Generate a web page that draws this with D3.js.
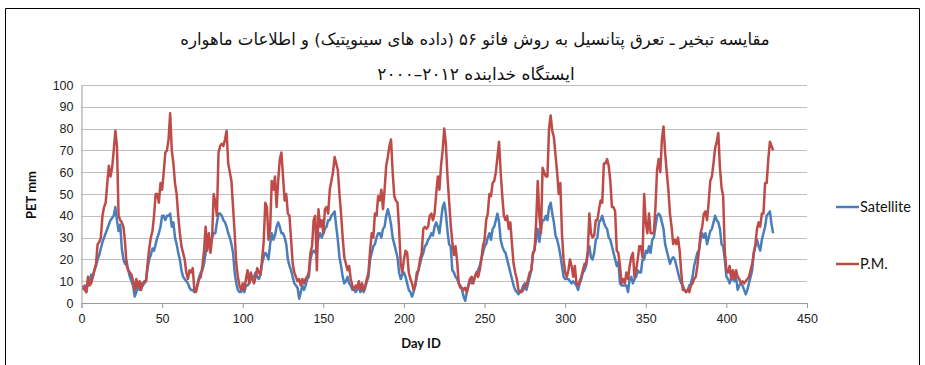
<!DOCTYPE html>
<html>
<head>
<meta charset="utf-8">
<script src="https://cdn.jsdelivr.net/npm/d3@7/dist/d3.min.js"></script>
<style>
  html, body { margin: 0; padding: 0; background: #fff; }
  svg { display: block; }
</style>
</head>
<body>
<svg id="chart" width="925" height="365"></svg>
<script>
// ---- Data ----
const titleLine1 = "مقایسه تبخیر ـ تعرق پتانسیل به روش فائو ۵۶ (داده های سینوپتیک) و اطلاعات ماهواره";
const titleLine2 = "ایستگاه خدابنده ۲۰۱۲–۲۰۰۰";
const xAxisTitle = "Day ID";
const yAxisTitle = "PET mm";
const seriesNames = ["Satellite", "P.M."];
const xTicks = [0, 50, 100, 150, 200, 250, 300, 350, 400, 450];
const yTicks = [0, 10, 20, 30, 40, 50, 60, 70, 80, 90, 100];

// P.M. (FAO-56 Penman-Monteith), day IDs 1..429
const pm = [
  8, 6, 5, 12, 8, 9, 12, 15, 18, 27,
  28, 30, 40, 44, 46, 55, 63, 58, 62, 70,
  79, 72, 40, 38, 37, 35, 28, 17, 15, 14,
  13, 10, 6, 11, 7, 10, 6, 9, 10, 10,
  18, 25, 30, 33, 40, 50, 50, 46, 55, 52,
  60, 69, 70, 75, 87, 70, 64, 55, 50, 40,
  32, 26, 23, 20, 14, 11, 15, 14, 16, 6,
  5, 8, 11, 12, 17, 24, 35, 24, 32, 23,
  30, 50, 46, 40, 69, 72, 73, 72, 75, 79,
  64, 60, 56, 44, 32, 18, 12, 8, 6, 9,
  6, 11, 15, 9, 14, 11, 9, 12, 16, 14,
  13, 20, 28, 46, 44, 29, 34, 56, 52, 58,
  44, 56, 66, 69, 58, 47, 50, 41, 40, 29,
  18, 14, 12, 10, 11, 8, 11, 9, 11, 12,
  14, 23, 26, 38, 40, 15, 43, 35, 38, 32,
  43, 44, 41, 52, 56, 60, 67, 64, 61, 50,
  41, 30, 21, 18, 15, 17, 11, 8, 6, 8,
  7, 10, 6, 9, 6, 8, 11, 14, 24, 32,
  30, 41, 40, 49, 47, 52, 43, 52, 63, 67,
  72, 75, 60, 49, 47, 46, 34, 18, 14, 20,
  24, 23, 14, 11, 9, 6, 8, 14, 15, 20,
  23, 34, 35, 34, 35, 40, 41, 38, 41, 50,
  58, 52, 63, 70, 80, 73, 58, 47, 36, 28,
  22, 26, 19, 9, 7, 7, 6, 7, 5, 8,
  11, 12, 9, 12, 14, 12, 15, 20, 26, 29,
  38, 41, 50, 49, 55, 56, 60, 67, 74, 60,
  49, 40, 38, 40, 34, 37, 27, 18, 14, 11,
  6, 5, 5, 6, 8, 8, 11, 14, 15, 23,
  24, 37, 56, 40, 32, 62, 60, 58, 58, 80,
  86, 79, 76, 68, 60, 50, 55, 32, 20, 14,
  12, 15, 20, 17, 12, 17, 9, 8, 10, 12,
  15, 18, 18, 23, 41, 32, 30, 31, 38, 38,
  43, 47, 46, 64, 64, 66, 63, 56, 44, 44,
  42, 24, 23, 17, 9, 11, 9, 14, 11, 17,
  21, 23, 12, 15, 20, 26, 26, 21, 50, 37,
  32, 41, 32, 32, 32, 44, 61, 66, 60, 75,
  81, 69, 60, 52, 41, 35, 27, 29, 27, 30,
  24, 14, 6, 6, 5, 6, 5, 8, 9, 11,
  12, 17, 24, 32, 35, 41, 42, 38, 46, 56,
  58, 64, 71, 74, 78, 62, 53, 49, 24, 15,
  14, 17, 11, 15, 11, 15, 12, 11, 9, 10,
  9, 10, 11, 12, 15, 18, 23, 27, 34, 37,
  35, 41, 41, 55, 55, 66, 74, 72, 70
];

// Satellite estimate, day IDs 1..429
const satellite = [
  6, 8, 5, 9, 10, 13, 12, 15, 17, 20,
  22, 25, 28, 30, 32, 34, 36, 38, 39, 40,
  44, 38, 33, 36, 25, 20, 18, 19, 15, 12,
  10, 8, 3, 5, 8, 6, 9, 8, 9, 10,
  16, 20, 22, 25, 24, 27, 30, 32, 35, 40,
  40, 38, 40, 40, 41, 35, 37, 30, 27, 23,
  20, 15, 12, 11, 10, 9, 7, 6, 6, 5,
  6, 9, 12, 14, 15, 18, 23, 27, 29, 26,
  30, 32, 32, 37, 41, 41, 40, 38, 37, 35,
  32, 30, 27, 23, 14, 9, 6, 5, 5, 7,
  5, 8, 8, 9, 11, 12, 12, 14, 12, 11,
  13, 18, 21, 23, 22, 20, 27, 32, 29, 31,
  35, 37, 35, 32, 32, 30, 27, 20, 17, 15,
  12, 9, 8, 7, 2, 5, 8, 6, 8, 11,
  12, 20, 23, 24, 23, 26, 30, 32, 30, 32,
  34, 35, 38, 38, 40, 41, 42, 35, 29, 21,
  17, 12, 9, 10, 12, 9, 8, 6, 7, 5,
  6, 8, 5, 7, 5, 7, 10, 12, 20, 23,
  26, 27, 30, 32, 32, 30, 34, 35, 40, 43,
  40, 36, 30, 27, 24, 21, 14, 11, 13, 14,
  12, 9, 6, 5, 3, 5, 8, 12, 15, 18,
  21, 23, 26, 27, 29, 30, 32, 31, 35, 37,
  35, 32, 38, 44, 46, 41, 33, 27, 26, 15,
  14, 12, 11, 9, 8, 6, 3, 1, 5, 8,
  11, 9, 10, 12, 14, 15, 17, 20, 23, 26,
  27, 30, 32, 29, 34, 35, 38, 41, 37, 29,
  26, 24, 23, 20, 17, 14, 11, 8, 6, 5,
  4, 5, 6, 8, 9, 6, 9, 12, 15, 22,
  25, 29, 34, 28, 34, 38, 38, 40, 38, 44,
  46, 41, 37, 31, 29, 26, 22, 17, 12, 11,
  11, 11, 10, 9, 10, 9, 8, 6, 9, 11,
  14, 15, 17, 23, 26, 21, 20, 23, 29, 30,
  37, 38, 40, 37, 35, 34, 30, 29, 26, 23,
  20, 17, 19, 9, 8, 8, 8, 8, 5, 11,
  12, 9, 11, 12, 15, 14, 14, 20, 20, 24,
  23, 26, 23, 29, 30, 35, 40, 41, 40, 37,
  34, 27, 24, 21, 18, 20, 21, 20, 17, 14,
  11, 9, 8, 6, 5, 6, 8, 9, 12, 17,
  20, 23, 24, 29, 32, 30, 32, 27, 30, 33,
  34, 37, 40, 38, 37, 34, 27, 26, 20, 12,
  11, 9, 11, 11, 10, 12, 6, 8, 9, 8,
  6, 4, 6, 9, 12, 15, 23, 26, 29, 26,
  24, 29, 32, 35, 40, 41, 42, 36, 32
];

const colors = { satellite: "#4a7ebb", pm: "#be4b48" };

// ---- Layout ----
const svg = d3.select("#chart");
const plot = { left: 81.5, right: 807, top: 85, bottom: 303 };

const x = d3.scaleLinear().domain([0, 450]).range([plot.left, plot.right]);
const y = d3.scaleLinear().domain([0, 100]).range([plot.bottom, plot.top]);

// outer frame (partial, as in the reference)
svg.append("path")
  .attr("d", `M5.5,365 L5.5,8.5 L919.5,8.5 L919.5,365`)
  .attr("fill", "none").attr("stroke", "#000").attr("stroke-width", 1);

// gridlines
svg.append("g")
  .selectAll("line").data(yTicks.filter(d => d > 0)).join("line")
  .attr("x1", plot.left).attr("x2", plot.right)
  .attr("y1", d => Math.round(y(d)) + 0.5).attr("y2", d => Math.round(y(d)) + 0.5)
  .attr("stroke", "#c0c0c0").attr("stroke-width", 1);

// y axis
const yAxis = d3.axisLeft(y).tickValues(yTicks).tickSize(0).tickPadding(8);
const gy = svg.append("g").attr("transform", `translate(${plot.left},0)`).call(yAxis);
gy.select(".domain").attr("stroke", "#9a9a9a");
gy.selectAll("text")
  .attr("font-family", "'Liberation Sans Narrow', 'Liberation Sans', Arial, sans-serif")
  .attr("font-size", 12.5).attr("fill", "#222");

// x axis
const xAxis = d3.axisBottom(x).tickValues(xTicks).tickSize(5).tickPadding(6);
const gx = svg.append("g").attr("transform", `translate(0,${plot.bottom})`).call(xAxis);
gx.select(".domain").attr("stroke", "#9a9a9a");
gx.selectAll(".tick line").attr("stroke", "#9a9a9a");
gx.selectAll("text")
  .attr("font-family", "'Liberation Sans Narrow', 'Liberation Sans', Arial, sans-serif")
  .attr("font-size", 12.5).attr("fill", "#222");

// lines
const line = d3.line().x((d, i) => x(i + 1)).y(d => y(d));
svg.append("path").datum(satellite)
  .attr("d", line).attr("fill", "none")
  .attr("stroke", colors.satellite).attr("stroke-width", 2.5)
  .attr("stroke-linejoin", "round");
svg.append("path").datum(pm)
  .attr("d", line).attr("fill", "none")
  .attr("stroke", colors.pm).attr("stroke-width", 2.5)
  .attr("stroke-linejoin", "round");

// titles
svg.append("text")
  .attr("x", 475).attr("y", 45)
  .attr("text-anchor", "middle").attr("direction", "rtl")
  .attr("font-family", "'DejaVu Sans', sans-serif").attr("font-size", 16.5)
  .attr("fill", "#111").text(titleLine1);
svg.append("text")
  .attr("x", 476).attr("y", 80)
  .attr("text-anchor", "middle").attr("direction", "rtl")
  .attr("font-family", "'DejaVu Sans', sans-serif").attr("font-size", 17)
  .attr("fill", "#111").text(titleLine2);

// axis titles
svg.append("text")
  .attr("x", 421).attr("y", 348).attr("text-anchor", "middle")
  .attr("font-family", "Lato, 'Open Sans', sans-serif").attr("font-weight", "bold")
  .attr("font-size", 13).attr("fill", "#111").text(xAxisTitle);
svg.append("text")
  .attr("transform", "translate(36,195) rotate(-90)").attr("text-anchor", "middle")
  .attr("font-family", "Lato, 'Open Sans', sans-serif").attr("font-weight", "bold")
  .attr("font-size", 13).attr("fill", "#111").text(yAxisTitle);

// legend
const legend = [
  { name: seriesNames[0], color: colors.satellite, yy: 207 },
  { name: seriesNames[1], color: colors.pm, yy: 264 }
];
const lg = svg.append("g");
lg.selectAll("line").data(legend).join("line")
  .attr("x1", 836).attr("x2", 859)
  .attr("y1", d => d.yy).attr("y2", d => d.yy)
  .attr("stroke", d => d.color).attr("stroke-width", 2.5);
lg.selectAll("text").data(legend).join("text")
  .attr("x", 860).attr("y", d => d.yy + 5)
  .attr("font-family", "Lato, 'Open Sans', sans-serif")
  .attr("font-size", 14.5).attr("fill", "#111")
  .text(d => d.name);
</script>
</body>
</html>
